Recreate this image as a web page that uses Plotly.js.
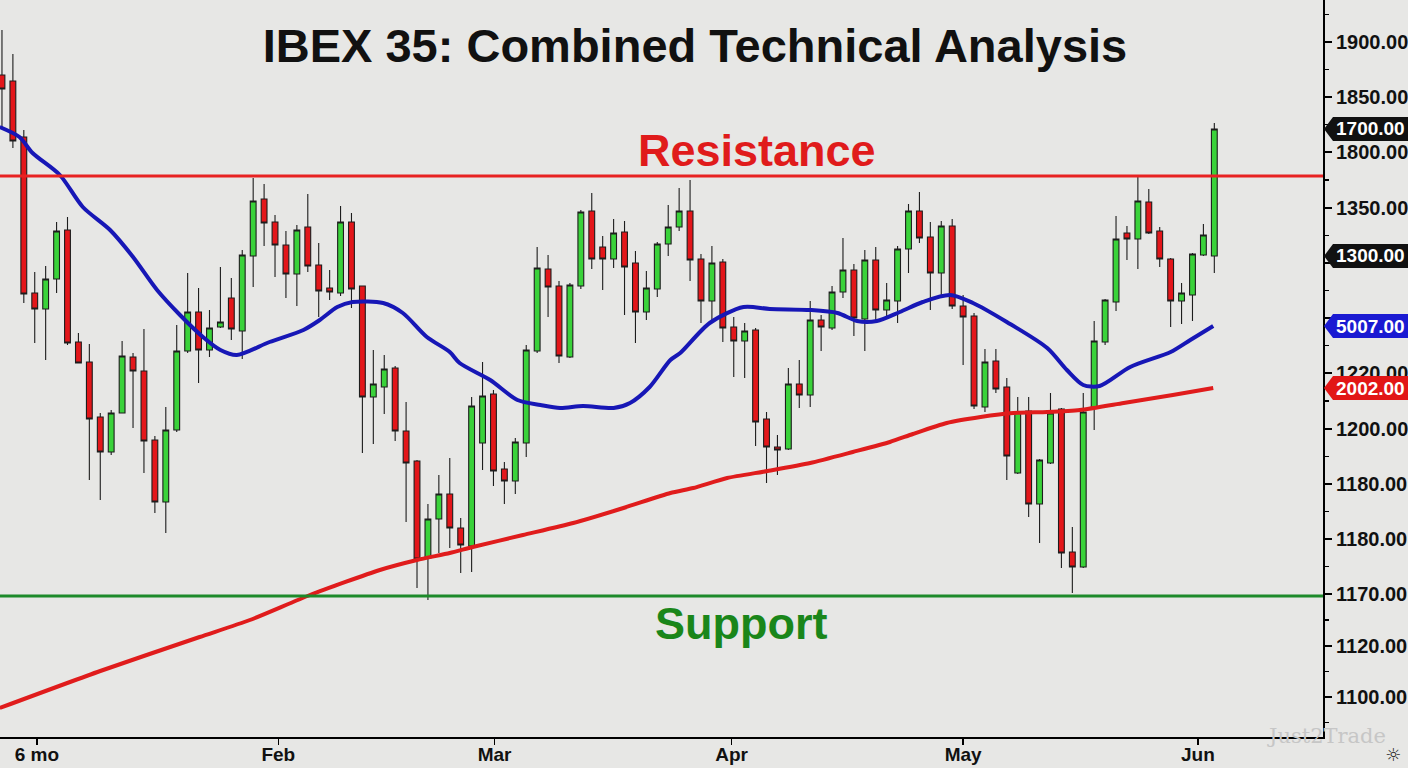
<!DOCTYPE html>
<html>
<head>
<meta charset="utf-8">
<script src="https://cdn.plot.ly/plotly-3.0.1.min.js"></script>
<style>
  html, body { margin: 0; padding: 0; background: #e7e7e5; }
  #chart { width: 1408px; height: 768px; }
</style>
</head>
<body>
<div id="chart"></div>
<script>
// ---- Data ----
const openP  = [1525,1519,1463,1307,1291,1321,1370,1258,1238,1183,1148,1187,1243,1229,1160,1098,1170,1249,1288,1250,1273,1302,1269,1344,1401,1378,1355,1326,1373,1335,1312,1307,1378,1314,1203,1213,1232,1169,1139,1042,1081,1106,1072,1054,1157,1206,1131,1119,1157,1249,1331,1314,1243,1314,1389,1353,1341,1368,1337,1288,1311,1356,1373,1389,1341,1299,1338,1273,1259,1270,1181,1153,1151,1216,1205,1280,1272,1308,1330,1281,1340,1290,1299,1351,1389,1363,1327,1374,1294,1284,1193,1239,1213,1127,1189,1096,1137,1191,1048,1033,1192,1258,1298,1367,1361,1398,1369,1341,1299,1305,1345,1344];
const highP  = [1570,1546,1470,1328,1334,1378,1383,1267,1256,1187,1190,1259,1247,1271,1164,1193,1275,1327,1312,1290,1333,1322,1350,1422,1416,1385,1369,1375,1406,1357,1330,1394,1387,1314,1250,1245,1234,1198,1140,1096,1125,1142,1082,1203,1238,1210,1138,1162,1255,1353,1345,1319,1317,1390,1407,1364,1381,1379,1349,1329,1358,1395,1412,1420,1346,1354,1341,1283,1277,1272,1188,1165,1232,1240,1299,1285,1314,1362,1336,1350,1353,1317,1354,1396,1408,1378,1379,1381,1305,1287,1251,1251,1222,1203,1203,1141,1207,1192,1073,1207,1279,1301,1384,1374,1423,1411,1373,1342,1317,1347,1376,1477];
const lowP   = [1472,1452,1297,1257,1240,1307,1255,1237,1120,1100,1145,1187,1172,1127,1087,1067,1168,1247,1217,1243,1272,1260,1241,1313,1354,1323,1302,1294,1328,1283,1300,1304,1292,1147,1156,1186,1159,1078,1012,1000,1047,1052,1027,1028,1130,1114,1096,1106,1143,1247,1283,1237,1242,1311,1331,1310,1332,1285,1257,1280,1303,1344,1369,1319,1277,1277,1258,1223,1222,1154,1117,1125,1150,1192,1193,1249,1270,1302,1264,1249,1277,1284,1277,1327,1357,1290,1305,1291,1235,1191,1188,1207,1120,1126,1083,1057,1136,1032,1007,1032,1170,1255,1289,1340,1331,1366,1333,1273,1276,1279,1344,1327];
const closeP = [1511,1459,1306,1291,1321,1369,1257,1237,1181,1148,1187,1244,1229,1159,1098,1170,1249,1288,1250,1272,1278,1271,1345,1399,1377,1355,1326,1370,1334,1309,1308,1378,1311,1203,1216,1231,1169,1137,1041,1081,1106,1072,1055,1194,1204,1129,1119,1158,1250,1332,1313,1244,1315,1388,1341,1341,1367,1333,1288,1312,1356,1373,1389,1340,1299,1337,1272,1259,1269,1178,1153,1150,1216,1205,1280,1273,1308,1330,1282,1340,1290,1300,1351,1389,1362,1327,1374,1294,1283,1194,1238,1211,1144,1188,1096,1140,1187,1047,1033,1188,1259,1300,1361,1361,1399,1367,1341,1299,1307,1346,1365,1471];

// Moving averages (sampled along the drawn curves)
const maShortX = [-0.2,1.6,2.8,5.3,7.4,9.9,12,14.2,16.3,18.4,20,21.5,24.5,27.6,29.1,30.7,32.1,34.9,36.7,38.9,41,41.9,44.7,47.2,49.3,51.1,53.2,56,57.5,59.3,61.2,62.1,64.8,67.9,70.3,74,76.5,78.3,80.1,82.2,84.3,86.8,88.9,92,95.7,97.5,99,100.5,103.3,107,108.8,110.9];
const maShortY = [1473,1463,1447,1425,1393,1370,1343,1310,1285,1263,1250,1245,1258,1270,1280,1293,1298,1297,1287,1263,1248,1237,1220,1200,1195,1192,1194,1192,1197,1213,1240,1247,1277,1293,1291,1290,1287,1279,1279,1288,1298,1305,1297,1278,1252,1230,1215,1214,1233,1248,1260,1274];
const maLongX  = [-0.2,9,18.1,22.7,28.2,34.6,38,41,43.1,47.7,52.3,56.9,61.2,63.3,66.4,70.1,74,77.9,81.3,83.4,86.5,89.6,92.6,95.7,98.7,102.7,107.2,110.9];
const maLongY  = [892,929,963,980,1005,1030,1040,1047,1053,1065,1077,1092,1107,1112,1122,1129,1137,1148,1158,1166,1177,1183,1187,1188,1190,1197,1205,1212];

const resistanceLevel = 1424;
const supportLevel = 1004;

// Axis ticks
const monthTickX = [3.2, 25.3, 45.1, 66.8, 88.0, 109.5];
const monthLabels = ['6 mo', 'Feb', 'Mar', 'Apr', 'May', 'Jun'];
const priceTickVals = [1558,1503,1448,1392,1337,1282,1227,1171,1116,1061,1006,954,903];
// labels fully hidden behind the price badges are left blank
const priceTickText = ['1900.00','1850.00','1800.00','1350.00','','','1220.00','1200.00','1180.00','1180.00','1170.00','1120.00','1100.00'];

// Right-edge price badges
const badgeText = ['1700.00', '1300.00', '5007.00', '2002.00'];
const badgeColor = ['#111111', '#111111', '#1a1ad2', '#e21616'];

// ---- Build ----
const idx = openP.map((_, i) => i);
const Y_RANGE = [863, 1600];
const X_RANGE = [-0.18, 120.95];
const FONT = 'Liberation Sans, Arial, sans-serif';

const badgeLevels = [
  closeP[closeP.length - 1],
  openP[openP.length - 1],
  maShortY[maShortY.length - 1],
  maLongY[maLongY.length - 1]
];

// minor ticks halfway between the major ticks
const minorVals = [];
for (let i = 0; i < priceTickVals.length - 1; i++) {
  minorVals.push((priceTickVals[i] + priceTickVals[i + 1]) / 2);
}
minorVals.push(priceTickVals[0] + (priceTickVals[0] - priceTickVals[1]) / 2);
minorVals.push(priceTickVals[priceTickVals.length - 1] - (priceTickVals[priceTickVals.length - 2] - priceTickVals[priceTickVals.length - 1]) / 2);

const traces = [
  {
    type: 'candlestick',
    x: idx, open: openP, high: highP, low: lowP, close: closeP,
    increasing: { line: { color: '#1d1d1d', width: 1.1 }, fillcolor: '#3ad23a' },
    decreasing: { line: { color: '#1d1d1d', width: 1.1 }, fillcolor: '#e3161a' },
    whiskerwidth: 0,
    hoverinfo: 'skip',
    showlegend: false
  },
  {
    type: 'scatter', mode: 'lines',
    x: maLongX, y: maLongY,
    line: { color: '#e01c1c', width: 4, shape: 'spline', smoothing: 0.6 },
    hoverinfo: 'skip', showlegend: false
  },
  {
    type: 'scatter', mode: 'lines',
    x: maShortX, y: maShortY,
    line: { color: '#1717b6', width: 4, shape: 'spline', smoothing: 0.8 },
    hoverinfo: 'skip', showlegend: false
  }
];

const shapes = [
  { type: 'line', xref: 'paper', x0: 0, x1: 1, yref: 'y', y0: resistanceLevel, y1: resistanceLevel,
    line: { color: '#e82222', width: 3 }, layer: 'above' },
  { type: 'line', xref: 'paper', x0: 0, x1: 1, yref: 'y', y0: supportLevel, y1: supportLevel,
    line: { color: '#1d8a2a', width: 3 }, layer: 'above' }
];

const annotations = [
  { text: 'Resistance', xref: 'paper', x: 0.572, yref: 'y', y: 1450, xanchor: 'center', yanchor: 'middle',
    showarrow: false, font: { family: FONT, size: 45, weight: 'bold', color: '#e01b1b' } },
  { text: 'Support', xref: 'paper', x: 0.560, yref: 'y', y: 977, xanchor: 'center', yanchor: 'middle',
    showarrow: false, font: { family: FONT, size: 45, weight: 'bold', color: '#1a861a' } },
  { text: 'Just2Trade', xref: 'paper', x: 1.003, yref: 'paper', y: 0.002, xanchor: 'center', yanchor: 'middle',
    showarrow: false, font: { family: 'DejaVu Serif, serif', size: 21, color: '#c6c6c6' } },
  { text: '\u263C', xref: 'paper', x: 1.053, yref: 'paper', y: -0.024, xanchor: 'center', yanchor: 'middle',
    showarrow: false, font: { family: 'DejaVu Sans, sans-serif', size: 18, color: '#2a2a2a' } }
];

badgeLevels.forEach((lvl, i) => {
  const yp = (lvl - Y_RANGE[0]) / (Y_RANGE[1] - Y_RANGE[0]);
  shapes.push({
    type: 'path', layer: 'above',
    xref: 'paper', xsizemode: 'pixel', xanchor: 1,
    yref: 'paper', ysizemode: 'pixel', yanchor: yp,
    path: 'M1,0 L10,12 L90,12 L90,-12 L10,-12 Z',
    fillcolor: badgeColor[i], line: { width: 0 }
  });
  annotations.push({
    text: badgeText[i], xref: 'paper', x: 1, xshift: 11, yref: 'paper', y: yp,
    xanchor: 'left', yanchor: 'middle', showarrow: false,
    font: { family: FONT, size: 19, weight: 'bold', color: '#ffffff' }
  });
});

const layout = {
  width: 1408, height: 768,
  paper_bgcolor: '#e7e7e5', plot_bgcolor: '#e7e7e5',
  margin: { l: 0, r: 85, t: 0, b: 31 },
  showlegend: false,
  hovermode: false,
  boxgap: 0.24,
  title: {
    text: 'IBEX 35: Combined Technical Analysis',
    font: { family: FONT, size: 47, weight: 'bold', color: '#111111' },
    xref: 'container', yref: 'container', x: 0.4936, y: 0.941, xanchor: 'center', yanchor: 'middle'
  },
  xaxis: {
    range: X_RANGE, rangeslider: { visible: false },
    tickmode: 'array', tickvals: monthTickX, ticktext: monthLabels,
    ticks: 'outside', ticklen: 6, tickwidth: 1.5, tickcolor: '#000',
    ticklabelstandoff: -7,
    showline: true, linecolor: '#000', linewidth: 2,
    showgrid: false, zeroline: false, fixedrange: true,
    tickfont: { family: FONT, size: 19, weight: 'bold', color: '#111' }
  },
  yaxis: {
    side: 'right', range: Y_RANGE,
    tickmode: 'array', tickvals: priceTickVals, ticktext: priceTickText,
    ticks: 'outside', ticklen: 7, tickwidth: 1.5, tickcolor: '#000',
    minor: { tickmode: 'array', tickvals: minorVals, ticks: 'outside', ticklen: 4, tickcolor: '#000', tickwidth: 1.2 },
    showline: true, linecolor: '#000', linewidth: 2,
    showgrid: false, zeroline: false, fixedrange: true,
    tickfont: { family: FONT, size: 20, weight: 'bold', color: '#111' }
  },
  shapes: shapes,
  annotations: annotations
};

Plotly.newPlot('chart', traces, layout, { displayModeBar: false, staticPlot: true });
</script>
</body>
</html>
